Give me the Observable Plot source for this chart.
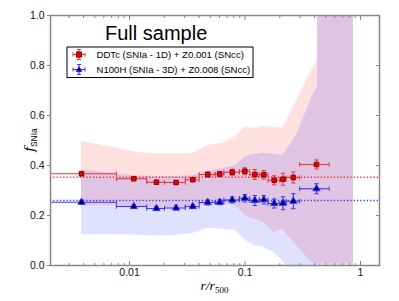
<!DOCTYPE html>
<html><head><meta charset="utf-8">
<script src="https://cdn.jsdelivr.net/npm/d3@7"></script>
<script src="https://cdn.jsdelivr.net/npm/@observablehq/plot@0.6"></script>
<style>body{margin:0;background:#fff;}</style>
</head><body><div id="chart"></div>
<script>
// ---- data ----
const radius = [0.00384, 0.0109, 0.0171, 0.0253, 0.0353, 0.0476, 0.0604, 0.0775, 0.0996, 0.1216, 0.1455, 0.179, 0.2133, 0.2619, 0.4159];
const binLo  = [0.0015, 0.0077, 0.0141, 0.0201, 0.0304, 0.0401, 0.0552, 0.0656, 0.0893, 0.110, 0.133, 0.158, 0.200, 0.227, 0.297];
const binHi  = [0.0077, 0.0141, 0.0201, 0.0304, 0.0401, 0.0552, 0.0656, 0.0893, 0.110, 0.133, 0.158, 0.200, 0.227, 0.297, 0.535];
const fRed   = [0.367, 0.347, 0.333, 0.332, 0.343, 0.364, 0.366, 0.373, 0.377, 0.364, 0.363, 0.341, 0.345, 0.352, 0.404];
const errRed = [0.008, 0.007, 0.008, 0.007, 0.007, 0.010, 0.010, 0.012, 0.014, 0.020, 0.017, 0.018, 0.024, 0.022, 0.018];
const fBlue  = [0.253, 0.236, 0.228, 0.230, 0.236, 0.252, 0.253, 0.262, 0.269, 0.260, 0.263, 0.248, 0.249, 0.257, 0.307];
const errBlue= [0.008, 0.007, 0.008, 0.008, 0.008, 0.010, 0.010, 0.012, 0.015, 0.020, 0.017, 0.018, 0.026, 0.030, 0.020];
const meanRed = 0.353;
const meanBlue = 0.26;

const bandX  = [0.00384, 0.00756, 0.01127, 0.0168, 0.0250, 0.0351, 0.0474, 0.0639, 0.0827, 0.1010, 0.1209, 0.1446, 0.1765, 0.2112, 0.2477, 0.2848, 0.3841, 0.4243, 0.4285, 0.870];
const redLo  = [0.240, 0.240, 0.235, 0.230, 0.230, 0.235, 0.245, 0.250, 0.240, 0.200, 0.185, 0.173, 0.133, 0.143, 0.107, 0.075, 0.008, 0.005, 0.005, 0.005];
const redHi  = [0.496, 0.470, 0.453, 0.447, 0.447, 0.447, 0.480, 0.489, 0.516, 0.553, 0.549, 0.556, 0.552, 0.549, 0.608, 0.665, 0.788, 0.820, 1.5, 1.5];
const blueLo = [0.123, 0.123, 0.122, 0.117, 0.120, 0.128, 0.149, 0.145, 0.140, 0.100, 0.080, 0.073, 0.053, 0.020, -0.05, -0.05, -0.05, -0.05, -0.05, -0.05];
const blueHi = [0.383, 0.367, 0.360, 0.356, 0.356, 0.360, 0.376, 0.388, 0.400, 0.436, 0.445, 0.449, 0.445, 0.440, 0.483, 0.530, 0.680, 0.713, 1.5, 1.5];

const yTicks = [0, 0.2, 0.4, 0.6, 0.8, 1.0];
const xTicks = [0.01, 0.1, 1];
const xMinor = [0.003,0.004,0.005,0.006,0.007,0.008,0.009,0.02,0.03,0.04,0.05,0.06,0.07,0.08,0.09,0.2,0.3,0.4,0.5,0.6,0.7,0.8,0.9];
const titleText = "Full sample";
const legendRed = "DDTc (SNIa - 1D) + Z0.001 (SNcc)";
const legendBlue = "N100H (SNIa - 3D) + Z0.008 (SNcc)";

// ---- tables ----
const rowsRed = radius.map((r, i) => ({r, lo: binLo[i], hi: binHi[i], f: fRed[i], e: errRed[i]}));
const rowsBlue = radius.map((r, i) => ({r, lo: binLo[i], hi: binHi[i], f: fBlue[i], e: errBlue[i]}));
const band = bandX.map((x, i) => ({x, rl: redLo[i], rh: redHi[i], bl: blueLo[i], bh: blueHi[i]}));

const RED = "#f03434", BLUE = "#3838ee", GRAY = "#888";
const capV = {draw(c, size) { const h = Math.sqrt(size / Math.PI); c.moveTo(0, -h); c.lineTo(0, h); }};
const capH = {draw(c, size) { const h = Math.sqrt(size / Math.PI); c.moveTo(-h, 0); c.lineTo(h, 0); }};

function series(rows, color, symbol, fill, stroke, r) {
  return [
    Plot.ruleY(rows, {y: "f", x1: "lo", x2: "hi", stroke: color, strokeWidth: 1.1, clip: true}),
    Plot.dot(rows, {x: "lo", y: "f", symbol: capV, r: 2.2, stroke: color, strokeWidth: 1, clip: true}),
    Plot.dot(rows, {x: "hi", y: "f", symbol: capV, r: 2.2, stroke: color, strokeWidth: 1, clip: true}),
    Plot.ruleX(rows, {x: "r", y1: d => d.f - d.e, y2: d => d.f + d.e, stroke: color, strokeWidth: 1.1}),
    Plot.dot(rows, {x: "r", y: d => d.f - d.e, symbol: capH, r: 2.2, stroke: color, strokeWidth: 1}),
    Plot.dot(rows, {x: "r", y: d => d.f + d.e, symbol: capH, r: 2.2, stroke: color, strokeWidth: 1}),
    Plot.dot(rows, {x: "r", y: "f", symbol, r, fill, stroke, strokeWidth: 0.8})
  ];
}

const svg = Plot.plot({
  width: 399, height: 301,
  marginLeft: 50, marginRight: 20, marginTop: 15, marginBottom: 36,
  x: {type: "log", domain: [0.00207, 1.46], label: null},
  y: {domain: [0, 1], label: null},
  style: {fontFamily: "'Liberation Sans', Arial, sans-serif", fontSize: "10.5px", background: "#fff", color: "#111"},
  marks: [
    Plot.areaY(band, {x: "x", y1: "rl", y2: "rh", fill: "#ff0000", fillOpacity: 0.12, clip: true}),
    Plot.areaY(band, {x: "x", y1: "bl", y2: "bh", fill: "#0000ff", fillOpacity: 0.12, clip: true}),
    Plot.ruleY([meanRed], {y: d => d, stroke: RED, strokeWidth: 1.3, strokeDasharray: "1.3,2"}),
    Plot.ruleY([meanBlue], {y: d => d, stroke: BLUE, strokeWidth: 1.3, strokeDasharray: "1.3,2"}),
    ...series(rowsRed, RED, "square", "#e80000", "#6a0000", 2.6),
    ...series(rowsBlue, BLUE, "triangle", "#000080", "#3030ff", 2.7),
    Plot.frame({stroke: GRAY, strokeWidth: 1.5}),
    Plot.axisY({ticks: yTicks, tickSize: 3, tickPadding: 3, tickFormat: d3.format(".1f"), stroke: GRAY, label: null}),
    Plot.axisY({anchor: "right", ticks: yTicks, tickSize: -4, fill: "none", stroke: GRAY, label: null}),
    Plot.axisX({ticks: xTicks, tickSize: -4, fill: "none", stroke: GRAY, label: null}),
    Plot.axisX({ticks: xMinor, tickSize: -2, fill: "none", stroke: GRAY, label: null}),
    Plot.axisX({anchor: "top", ticks: xTicks, tickSize: -4, fill: "none", stroke: GRAY, label: null}),
    Plot.axisX({anchor: "top", ticks: xMinor, tickSize: -2, fill: "none", stroke: GRAY, label: null}),
    Plot.axisX({ticks: xTicks, tickSize: 0, tickPadding: 3, tickFormat: d => String(d), label: null})
  ]
});
document.getElementById("chart").appendChild(svg);

// ---- title, labels and legend ----
const s = d3.select(svg);
s.append("text").attr("x", 105).attr("y", 39.5).attr("text-anchor", "start")
  .attr("font-family", "'Liberation Sans', Arial, sans-serif").attr("font-size", 20).attr("fill", "#000")
  .text(titleText);

const yl = s.append("text").attr("transform", "translate(34,140) rotate(-90)").attr("text-anchor", "middle").attr("fill", "#000");
yl.append("tspan").attr("font-family", "'DejaVu Serif', 'Liberation Serif', serif").attr("font-style", "italic").attr("font-size", 13).text("f");
yl.append("tspan").attr("font-family", "'Liberation Sans', Arial, sans-serif").attr("font-size", 8.5).attr("dy", 2.5).text("SNIa");

const xl = s.append("text").attr("x", 214.5).attr("y", 290).attr("text-anchor", "middle").attr("fill", "#000");
xl.append("tspan").attr("font-family", "'Liberation Serif', serif").attr("font-style", "italic").attr("font-size", 13.5).text("r/r");
xl.append("tspan").attr("font-family", "'Liberation Serif', serif").attr("font-size", 9).attr("dy", 3).text("500");

const lg = s.append("g");
lg.append("rect").attr("x", 67).attr("y", 47).attr("width", 186).attr("height", 30.5)
  .attr("fill", "#fff").attr("stroke", "#000").attr("stroke-width", 1);
function legendRow(cy, color, label, shape) {
  const cx = 79;
  lg.append("line").attr("x1", cx - 6).attr("x2", cx + 6).attr("y1", cy).attr("y2", cy).attr("stroke", color).attr("stroke-width", 1.1);
  lg.append("line").attr("x1", cx).attr("x2", cx).attr("y1", cy - 5).attr("y2", cy + 5).attr("stroke", color).attr("stroke-width", 1.1);
  [[cx - 6, cy - 2, cx - 6, cy + 2], [cx + 6, cy - 2, cx + 6, cy + 2], [cx - 2, cy - 5, cx + 2, cy - 5], [cx - 2, cy + 5, cx + 2, cy + 5]]
    .forEach(([a, b, c, d]) => lg.append("line").attr("x1", a).attr("y1", b).attr("x2", c).attr("y2", d).attr("stroke", color).attr("stroke-width", 1));
  if (shape === "square") {
    lg.append("rect").attr("x", cx - 2.6).attr("y", cy - 2.6).attr("width", 5.2).attr("height", 5.2).attr("fill", "#e80000").attr("stroke", "#6a0000").attr("stroke-width", 0.8);
  } else {
    lg.append("path").attr("d", `M${cx},${cy - 3}L${cx + 3},${cy + 2.2}L${cx - 3},${cy + 2.2}Z`).attr("fill", "#000080").attr("stroke", "#3030ff").attr("stroke-width", 0.8);
  }
  lg.append("text").attr("x", 96.5).attr("y", cy + 3.4).attr("text-anchor", "start")
    .attr("font-family", "'Liberation Sans', Arial, sans-serif").attr("font-size", 9.6).attr("fill", "#000").text(label);
}
legendRow(54.5, RED, legendRed, "square");
legendRow(69.5, BLUE, legendBlue, "triangle");
</script>
</body></html>
